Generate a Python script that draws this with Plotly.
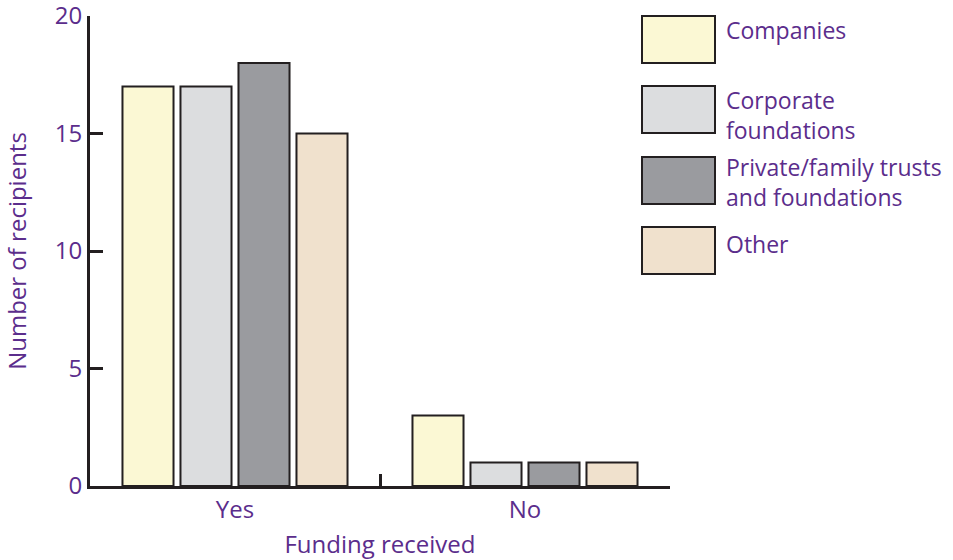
import plotly.graph_objects as go

categories = ["Yes", "No"]
series_names = ["Companies", "Corporate foundations", "Private/family trusts and foundations", "Other"]
legend_labels = ["Companies", "Corporate<br>foundations", "Private/family trusts<br>and foundations", "Other"]
companies = [17, 3]
corporate = [17, 1]
private = [18, 1]
other = [15, 1]
series_values = [companies, corporate, private, other]
colors = ["#fbf8d4", "#dcdddf", "#9a9b9f", "#f0e1cd"]
y_ticks = [0, 5, 10, 15, 20]

PURPLE = "#5b2d8c"
EDGE = "#231f20"
FONT = "Open Sans"

fig = go.Figure()
for name, vals, col in zip(series_names, series_values, colors):
    fig.add_trace(go.Bar(
        x=categories, y=vals, name=name,
        marker=dict(color=col, line=dict(color=EDGE, width=2)),
        showlegend=False,
    ))

# Manual legend (large swatches); positions given in window pixels
W, H = 953, 560
L, T = 90, 16
R = W - 670
B = H - 486
pw, ph = W - L - R, H - T - B


def px_x(x):
    return (x - L) / pw


def px_y(y):
    return (H - B - y) / ph


box_tops = [16, 86, 157, 227]
text_tops = [12, 82, 149, 226]
box_h = 47
for top, ttop, col, lab in zip(box_tops, text_tops, colors, legend_labels):
    fig.add_shape(type="rect", xref="paper", yref="paper",
                  x0=px_x(642), x1=px_x(715),
                  y0=px_y(top + box_h), y1=px_y(top),
                  fillcolor=col, line=dict(color=EDGE, width=2))
    fig.add_annotation(xref="paper", yref="paper",
                       x=px_x(724), y=px_y(ttop),
                       text=lab, showarrow=False, xanchor="left", yanchor="top",
                       align="left", font=dict(family=FONT, size=23, color=PURPLE))

fig.update_layout(
    width=W, height=H,
    margin=dict(l=L, r=R, t=T, b=B),
    paper_bgcolor="white", plot_bgcolor="white",
    barmode="group", bargap=0.2, bargroupgap=0.12,
    font=dict(family=FONT, size=24, color=PURPLE),
    xaxis=dict(
        type="category", range=[-0.5, 1.5], automargin=False,
        showline=True, linecolor=EDGE, linewidth=3,
        ticks="inside", tickson="boundaries", ticklen=12, tickwidth=3, tickcolor=EDGE,
        showgrid=False, zeroline=False,
        tickfont=dict(family=FONT, size=24, color=PURPLE),
        title=dict(text="Funding received", standoff=14,
                   font=dict(family=FONT, size=24, color=PURPLE)),
    ),
    yaxis=dict(
        range=[0, 20], tickvals=y_ticks, automargin=False,
        ticklabeloverflow="allow",
        showline=True, linecolor=EDGE, linewidth=3,
        ticks="inside", ticklen=13, tickwidth=3, tickcolor=EDGE,
        showgrid=False, zeroline=False,
        tickfont=dict(family=FONT, size=24, color=PURPLE),
        title=dict(text="Number of recipients", standoff=28,
                   font=dict(family=FONT, size=24, color=PURPLE)),
    ),
)

fig.write_html("out.html", config={"displayModeBar": False},
               post_script="document.body.style.margin='0px';document.body.style.padding='0px';")
